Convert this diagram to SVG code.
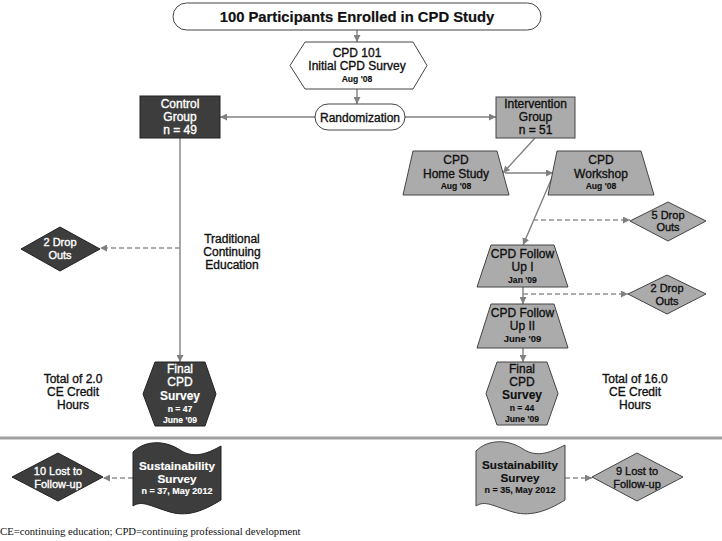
<svg xmlns="http://www.w3.org/2000/svg" width="722" height="541" viewBox="0 0 722 541">
<defs>
<marker id="ah" viewBox="0 0 10 10" refX="10" refY="5" markerWidth="7" markerHeight="7" orient="auto" markerUnits="userSpaceOnUse"><path d="M0,0 L10,5 L0,10 Z" fill="#808080"/></marker>
<style>
text{font-family:"Liberation Sans",Arial,sans-serif;text-anchor:middle;font-size:12px;fill:#111;stroke:#111;stroke-width:.35}
.w{fill:#fff;stroke:#fff}
.b{font-weight:bold}
.s{font-size:8.6px;font-weight:bold;stroke-width:.15}
.d{font-size:11px}
.dk{fill:#3d3d3d;stroke:#222;stroke-width:1}
.gr{fill:#ababab;stroke:#444;stroke-width:1}
.wh{fill:#fff;stroke:#444;stroke-width:1}
.ln{stroke:#808080;stroke-width:1.4;fill:none;marker-end:url(#ah)}
.ds{stroke:#909090;stroke-width:1.4;fill:none;stroke-dasharray:5,3;marker-end:url(#ah)}
</style>
</defs>
<rect width="722" height="541" fill="#fff"/>
<g id="connectors">
<line class="ln" x1="357" y1="30" x2="357" y2="42"/>
<line class="ln" x1="357" y1="89" x2="357" y2="104"/>
<line class="ln" x1="315" y1="117" x2="220" y2="117"/>
<line class="ln" x1="405" y1="117" x2="496" y2="117"/>
<line class="ln" x1="535" y1="138" x2="503" y2="173"/>
<line class="ln" x1="505" y1="173" x2="553" y2="173"/>
<line class="ln" x1="554" y1="173" x2="523" y2="245"/>
<line class="ds" x1="533" y1="220" x2="630" y2="220"/>
<line class="ln" x1="523" y1="287" x2="523" y2="304"/>
<line class="ds" x1="523" y1="294" x2="628" y2="294"/>
<line class="ln" x1="523" y1="348" x2="523" y2="362"/>
<line class="ln" x1="180" y1="138" x2="180" y2="362"/>
<line class="ds" x1="180" y1="248" x2="100" y2="248"/>
<line class="ds" x1="133" y1="478" x2="103" y2="478"/>
<line class="ds" x1="565" y1="478" x2="592" y2="478"/>
</g>
<line x1="0" y1="438" x2="722" y2="438" stroke="#a0a0a0" stroke-width="3"/>
<g id="enrolled">
<rect class="wh" x="173" y="3" width="368" height="27" rx="13.5"/>
<text class="b" x="357" y="22" style="font-size:14.8px;stroke-width:.2">100 Participants Enrolled in CPD Study</text>
</g>
<g id="cpd101">
<polygon class="wh" points="305,42 413,42 427,65.5 413,89 305,89 290,65.5"/>
<text x="357" y="57">CPD 101</text>
<text x="357" y="70">Initial CPD Survey</text>
<text class="s" x="357" y="82">Aug '08</text>
</g>
<g id="randomization">
<rect class="wh" x="315" y="104" width="90" height="26" rx="13"/>
<text x="360" y="121.5">Randomization</text>
</g>
<g id="control">
<rect class="dk" x="140" y="96" width="80" height="42"/>
<text class="w" x="180" y="108">Control</text>
<text class="w" x="180" y="121">Group</text>
<text class="w" x="180" y="134">n = 49</text>
</g>
<g id="intervention">
<rect class="gr" x="496" y="97" width="79" height="41"/>
<text x="535.5" y="108">Intervention</text>
<text x="535.5" y="121">Group</text>
<text x="535.5" y="134">n = 51</text>
</g>
<g id="homestudy">
<polygon class="gr" points="413,151 497,151 509,195 403,195"/>
<text x="456" y="164">CPD</text>
<text x="456" y="178">Home Study</text>
<text class="s" x="456" y="189">Aug '08</text>
</g>
<g id="workshop">
<polygon class="gr" points="557,151 641,151 654,195 548,195"/>
<text x="601" y="164">CPD</text>
<text x="601" y="178">Workshop</text>
<text class="s" x="601" y="189">Aug '08</text>
</g>
<g id="dropouts5">
<polygon class="gr" points="630,221 668,202 706,221 668,241"/>
<text class="d" x="668" y="218.5">5 Drop</text>
<text class="d" x="668" y="231">Outs</text>
</g>
<g id="followup1">
<polygon class="gr" points="491,245 554,245 568,287 477,287"/>
<text x="522.5" y="258">CPD Follow</text>
<text x="522.5" y="271">Up I</text>
<text class="s" x="522.5" y="283">Jan '09</text>
</g>
<g id="dropouts2r">
<polygon class="gr" points="628,294 667,275 706,294 667,314"/>
<text class="d" x="667" y="292">2 Drop</text>
<text class="d" x="667" y="304.5">Outs</text>
</g>
<g id="followup2">
<polygon class="gr" points="491,304 554,304 568,348 477,348"/>
<text x="522.5" y="317">CPD Follow</text>
<text x="522.5" y="330">Up II</text>
<text class="s" x="522.5" y="342" style="font-size:9.5px">June '09</text>
</g>
<g id="finalint">
<polygon class="gr" points="497,362 547,362 558,393.5 547,425 497,425 486,393.5"/>
<text x="522" y="373">Final</text>
<text x="522" y="386">CPD</text>
<text class="b" x="522" y="399" style="stroke-width:.15">Survey</text>
<text class="s" x="522" y="411">n = 44</text>
<text class="s" x="522" y="422">June '09</text>
</g>
<g id="total16">
<text x="635" y="383">Total of 16.0</text>
<text x="635" y="396">CE Credit</text>
<text x="635" y="409">Hours</text>
</g>
<g id="dropouts2l">
<polygon class="dk" points="21,249 60,227 100,249 60,271"/>
<text class="w d" x="60" y="246">2 Drop</text>
<text class="w d" x="60" y="258.5">Outs</text>
</g>
<g id="traditional">
<text x="232" y="243">Traditional</text>
<text x="232" y="256">Continuing</text>
<text x="232" y="269">Education</text>
</g>
<g id="finalctrl">
<polygon class="dk" points="155,362 205,362 216,394 205,426 155,426 143,394"/>
<text class="w" x="180" y="373">Final</text>
<text class="w" x="180" y="386">CPD</text>
<text class="w b" x="180" y="400" style="stroke-width:.15">Survey</text>
<text class="w s" x="180" y="412">n = 47</text>
<text class="w s" x="180" y="423">June '09</text>
</g>
<g id="total2">
<text x="73" y="383">Total of 2.0</text>
<text x="73" y="396">CE Credit</text>
<text x="73" y="409">Hours</text>
</g>
<g id="sustctrl">
<path class="dk" d="M133,452 C145,440 165,440 180,450 S210,452 221,446 L221,500 C208,508 190,518 170,512 S142,500 133,506 Z"/>
<text class="w b" x="177" y="470" style="font-size:11.7px;stroke-width:.15">Sustainability</text>
<text class="w b" x="177" y="483" style="font-size:11.7px;stroke-width:.15">Survey</text>
<text class="w s" x="177" y="494" style="font-size:9px">n = 37, May 2012</text>
</g>
<g id="lost10">
<polygon class="dk" points="12,477 58,453 103,477 58,501"/>
<text class="w d" x="58" y="475">10 Lost to</text>
<text class="w d" x="58" y="488">Follow-up</text>
</g>
<g id="sustint">
<path class="gr" d="M476,451 C488,439 508,439 523,449 S553,451 565,445 L565,500 C552,508 533,518 513,512 S485,500 476,506 Z"/>
<text class="b" x="520" y="469" style="font-size:11.7px;stroke-width:.15">Sustainability</text>
<text class="b" x="520" y="482" style="font-size:11.7px;stroke-width:.15">Survey</text>
<text class="s" x="520" y="493" style="font-size:9px">n = 35, May 2012</text>
</g>
<g id="lost9">
<polygon class="gr" points="592,477 637,453 683,477 637,501"/>
<text class="d" x="637" y="475">9 Lost to</text>
<text class="d" x="637" y="488">Follow-up</text>
</g>
<text x="0" y="535" style="font-family:'Liberation Serif','Times New Roman',serif;font-size:10.7px;text-anchor:start;stroke:none">CE=continuing education; CPD=continuing professional development</text>
</svg>
